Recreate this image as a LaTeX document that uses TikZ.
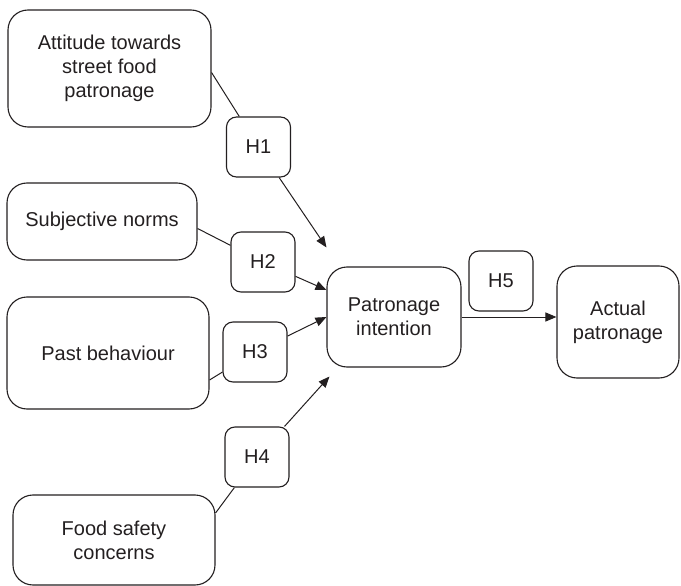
\documentclass[tikz,border=0pt]{standalone}
\usepackage{fontspec}
\setmainfont{Liberation Sans}
\usetikzlibrary{arrows.meta}
\definecolor{ink}{HTML}{231F20}

\begin{document}
\begin{tikzpicture}[x=1pt, y=-1pt,
        every node/.style={font=\fontsize{20}{24}\selectfont, text=ink},
        bigbox/.style={draw=ink, line width=1.1pt, rounded corners=20pt,
            align=center, inner sep=0pt},
        hbox/.style={draw=ink, line width=1.1pt, rounded corners=10pt, fill=white,
            minimum width=64pt, minimum height=60pt, inner sep=0pt},
        link/.style={draw=ink, line width=1pt},
        arrow/.style={link, -{Triangle[length=11pt, width=9pt]}}]
            \useasboundingbox (0, 0) rectangle (681, 586);
            %\draw[lightgray] (0, 0) grid[step=50pt] (681, 586);

            % constructs
            \node[bigbox, minimum width=203pt, minimum height=117pt] (att) at (109.5, 68.5) {Attitude towards\\street food\\patronage};
            \node[bigbox, minimum width=190pt, minimum height=77pt] (norms) at (102, 221.5) {Subjective norms};
            \node[bigbox, minimum width=202pt, minimum height=112pt] (past) at (108, 353) {Past behaviour};
            \node[bigbox, minimum width=202pt, minimum height=90pt] (safety) at (114, 540) {Food safety\\concerns};
            \node[bigbox, minimum width=134pt, minimum height=100pt] (intent) at (394, 317) {Patronage\\intention};
            \node[bigbox, minimum width=122pt, minimum height=112pt] (actual) at (618, 322) {Actual\\patronage};

            % hypotheses
            \node[hbox] (h1) at (258.5, 147) {H1};
            \node[hbox] (h2) at (263, 262) {H2};
            \node[hbox] (h3) at (255, 352) {H3};
            \node[hbox] (h4) at (257, 457) {H4};
            \node[hbox] (h5) at (501, 281) {H5};

            % arrow ends at the intention box
            \coordinate (e1) at ([yshift=19pt]intent.north west);
            \coordinate (e2) at ([yshift=27pt]intent.west);
            \coordinate (e3) at (intent.west);
            \coordinate (e4) at ([xshift=3pt, yshift=-9pt]intent.south west);

            \draw[link] ([yshift=-4pt]att.east) -- (h1);
            \draw[arrow] (h1) -- (e1);
            \draw[link] ([yshift=-7pt]norms.east) -- (h2);
            \draw[arrow] (h2) -- (e2);
            \draw[link] ([yshift=-27pt]past.east) -- (h3);
            \draw[arrow] (h3) -- (e3);
            \draw[link] ([yshift=27pt]safety.east) -- (h4);
            \draw[arrow] (h4) -- (e4);
            \draw[arrow] (intent.east) -- (intent.east -| actual.west);
\end{tikzpicture}
\end{document}
